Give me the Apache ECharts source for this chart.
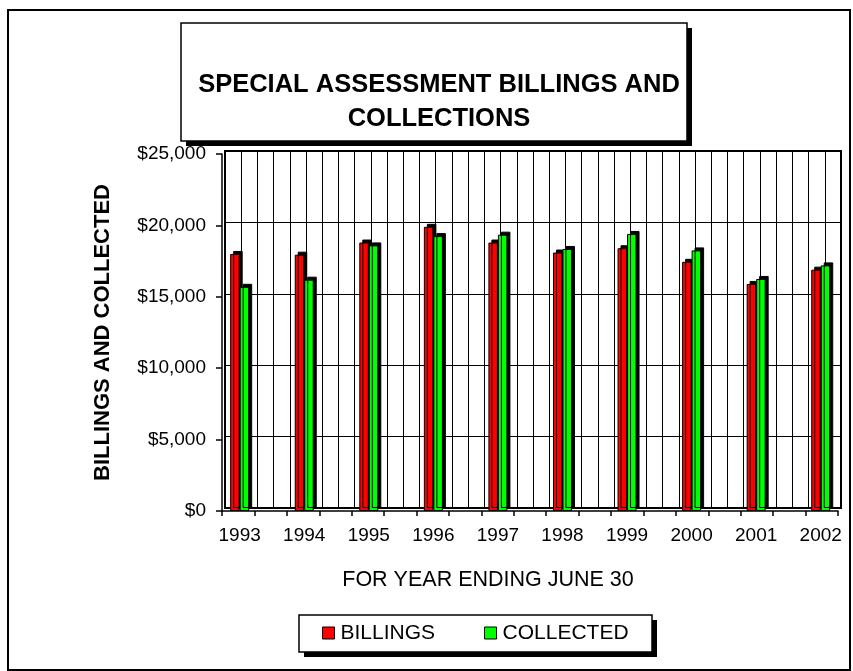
<!DOCTYPE html>
<html>
<head>
<meta charset="utf-8">
<script src="https://cdn.jsdelivr.net/npm/echarts@6/dist/echarts.min.js"></script>
<style>
  html, body { margin: 0; padding: 0; background: #ffffff; }
  #chart { width: 853px; height: 671px; }
</style>
</head>
<body>
<div id="chart"></div>
<script>
// Fiscal years (ending June 30)
const years = ['1993', '1994', '1995', '1996', '1997', '1998', '1999', '2000', '2001', '2002'];
// Amounts billed and collected per year
const billings  = [18000, 17950, 18800, 19900, 18800, 18100, 18400, 17450, 15900, 16900];
const collected = [15700, 16200, 18600, 19250, 19350, 18350, 19400, 18250, 16250, 17200];
// Value axis ticks
const yMin = 0, yMax = 25000, yStep = 5000;

const FONT = '"Liberation Sans", Arial, sans-serif';

function money(v) {
  return '$' + v.toString().replace(/\B(?=(\d{3})+(?!\d))/g, ',');
}

// Framed box with a solid drop shadow (drawn behind the title and legend)
function shadowBox(x, y, w, h, off) {
  return [
    { type: 'rect', shape: { x: x + off, y: y + off, width: w, height: h },
      style: { fill: '#000000' }, silent: true, z: -5 },
    { type: 'rect', shape: { x: x, y: y, width: w, height: h },
      style: { fill: '#ffffff', stroke: '#000000', lineWidth: 1.5 }, silent: true, z: -4 }
  ];
}

const chart = echarts.init(document.getElementById('chart'), null, { renderer: 'canvas' });

const barStyle = (fill) => ({
  color: fill,
  borderColor: '#000000',
  borderWidth: 1,
  shadowColor: '#000000',
  shadowBlur: 0,
  shadowOffsetX: 3,
  shadowOffsetY: -3
});

chart.setOption({
  backgroundColor: '#ffffff',
  animation: false,
  textStyle: { fontFamily: FONT, color: '#000000' },
  graphic: [
    { type: 'rect', shape: { x: 8, y: 10, width: 842, height: 660 },
      style: { fill: null, stroke: '#000000', lineWidth: 2 }, silent: true, z: -10 }
  ].concat(shadowBox(181, 23, 506, 118, 5), shadowBox(299, 615, 353, 37, 5)),
  title: {
    text: 'SPECIAL ASSESSMENT BILLINGS AND\nCOLLECTIONS',
    left: 439,
    top: 68,
    textAlign: 'center',
    padding: 0,
    textStyle: {
      fontFamily: FONT,
      fontSize: 25.5,
      fontWeight: 'bold',
      color: '#000000',
      lineHeight: 34,
      align: 'center'
    }
  },
  legend: {
    data: ['BILLINGS', 'COLLECTED'],
    left: 322,
    top: 622,
    orient: 'horizontal',
    icon: 'rect',
    itemWidth: 12,
    itemHeight: 12,
    itemGap: 49,
    padding: 0,
    itemStyle: { borderColor: '#000000', borderWidth: 1, shadowBlur: 0, shadowOffsetX: 0, shadowOffsetY: 0, shadowColor: 'rgba(0,0,0,0)' },
    textStyle: { fontFamily: FONT, fontSize: 21, color: '#000000', lineHeight: 22, padding: [0, 0, 0, 1] }
  },
  grid: [
    // bars
    { left: 207.4, top: 154, width: 648.4, height: 357 },
    // back wall
    { left: 225, top: 151, width: 616, height: 357, show: true, borderColor: '#000000', borderWidth: 2, backgroundColor: 'rgba(0,0,0,0)' },
    // front axes
    { left: 222, top: 154, width: 616, height: 357 }
  ],
  xAxis: [
    {
      type: 'category', gridIndex: 0, data: years,
      axisLine: { show: false }, axisTick: { show: false },
      axisLabel: { fontFamily: FONT, fontSize: 19, color: '#000000', margin: 15 },
      splitLine: { show: false }
    },
    {
      type: 'value', gridIndex: 1, min: 0, max: 38, interval: 1,
      axisLine: { show: false }, axisTick: { show: false }, axisLabel: { show: false },
      splitLine: { show: true, lineStyle: { color: '#000000', width: 1 } }
    },
    {
      type: 'value', gridIndex: 2, min: 0, max: 38, interval: 2,
      axisLine: { show: true, lineStyle: { color: '#000000', width: 1.5 } },
      axisTick: { show: true, inside: false, length: 5, lineStyle: { color: '#000000', width: 1.5 } },
      axisLabel: { show: false },
      splitLine: { show: false },
      name: 'FOR YEAR ENDING JUNE 30',
      nameLocation: 'middle',
      nameGap: 58,
      nameTextStyle: { fontFamily: FONT, fontSize: 21.5, color: '#000000', padding: [0, 84, 0, 0] }
    }
  ],
  yAxis: [
    { type: 'value', gridIndex: 0, min: yMin, max: yMax, show: false },
    {
      type: 'value', gridIndex: 1, min: yMin, max: yMax, interval: yStep,
      axisLine: { show: false }, axisTick: { show: false }, axisLabel: { show: false },
      splitLine: { show: true, lineStyle: { color: '#000000', width: 1 } }
    },
    {
      type: 'value', gridIndex: 2, min: yMin, max: yMax, interval: yStep,
      axisLine: { show: true, lineStyle: { color: '#000000', width: 1.5 } },
      axisTick: { show: true, inside: false, length: 6, lineStyle: { color: '#000000', width: 1.5 } },
      axisLabel: { fontFamily: FONT, fontSize: 19, color: '#000000', margin: 16, formatter: money },
      splitLine: { show: false },
      name: 'BILLINGS AND COLLECTED',
      nameLocation: 'middle',
      nameGap: 108,
      nameTextStyle: { fontFamily: FONT, fontSize: 22, fontWeight: 'bold', color: '#000000' }
    }
  ],
  series: [
    {
      name: 'BILLINGS', type: 'bar', xAxisIndex: 0, yAxisIndex: 0,
      data: billings, barWidth: 9.5, barGap: '0%',
      itemStyle: barStyle('#ff0000'), z: 5
    },
    {
      name: 'COLLECTED', type: 'bar', xAxisIndex: 0, yAxisIndex: 0,
      data: collected, barWidth: 9.5, barGap: '0%',
      itemStyle: barStyle('#00ff00'), z: 5
    }
  ]
});
</script>
</body>
</html>
